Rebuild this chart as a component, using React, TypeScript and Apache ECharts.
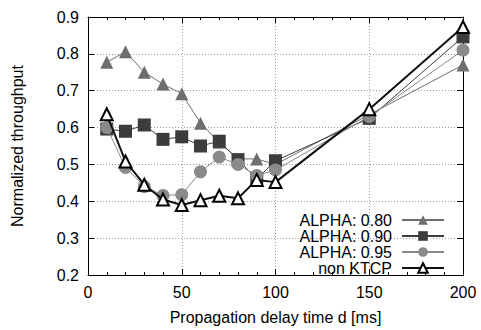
import React, { useEffect, useRef } from "react";
import * as echarts from "echarts";

const xValues = [10, 20, 30, 40, 50, 60, 70, 80, 90, 100, 150, 200];
const alpha080 = [0.777, 0.806, 0.75, 0.718, 0.692, 0.612, 0.56, 0.515, 0.515, 0.5, 0.635, 0.77];
const alpha090 = [0.596, 0.59, 0.607, 0.568, 0.575, 0.55, 0.563, 0.513, 0.46, 0.51, 0.625, 0.846];
const alpha095 = [0.6, 0.492, 0.44, 0.416, 0.418, 0.48, 0.52, 0.5, 0.47, 0.485, 0.63, 0.81];
const nonKtcp = [0.636, 0.508, 0.445, 0.405, 0.39, 0.403, 0.415, 0.408, 0.458, 0.452, 0.65, 0.873];
const seriesNames = ["ALPHA: 0.80", "ALPHA: 0.90", "ALPHA: 0.95", "non KTCP"];

const FONT = "Liberation Sans, Arial, Helvetica, sans-serif";

export default function App() {
  const ref = useRef<HTMLDivElement>(null);
  useEffect(() => {
    if (!ref.current) return;
    const chart = echarts.init(ref.current, undefined, { renderer: "svg" });
    const pair = (ys: number[]) => xValues.map((x, i) => [x, ys[i]]);
    const axisCommon = {
      axisLine: { show: true, onZero: false, lineStyle: { color: "#000", width: 1 } },
    };
    chart.setOption({
      animation: false,
      backgroundColor: "#fff",
      textStyle: { fontFamily: FONT },
      grid: { left: 88, right: 18, top: 17, bottom: 50, containLabel: false },
      xAxis: [
        {
          type: "value",
          min: 0,
          max: 200,
          interval: 50,
          name: "Propagation delay time d [ms]",
          nameLocation: "middle",
          nameGap: 34,
          nameTextStyle: { fontSize: 16, color: "#000", fontFamily: FONT },
          ...axisCommon,
          axisTick: { inside: true, length: 6, lineStyle: { color: "#000" } },
          minorTick: { show: true, splitNumber: 5, length: 3, lineStyle: { color: "#000" } },
          axisLabel: { fontSize: 16, color: "#000", margin: 9, fontFamily: FONT },
          splitLine: { show: true, lineStyle: { color: "#999", type: [1, 2], width: 1 } },
        },
        {
          type: "value",
          position: "top",
          min: 0,
          max: 200,
          interval: 50,
          ...axisCommon,
          axisTick: { inside: true, length: 6, lineStyle: { color: "#000" } },
          minorTick: { show: true, splitNumber: 5, length: 3, lineStyle: { color: "#000" } },
          axisLabel: { show: false },
          splitLine: { show: false },
        },
      ],
      yAxis: [
        {
          type: "value",
          min: 0.2,
          max: 0.9,
          interval: 0.1,
          name: "Normalized throughput",
          nameLocation: "middle",
          nameGap: 63,
          nameTextStyle: { fontSize: 16, color: "#000", fontFamily: FONT },
          ...axisCommon,
          axisTick: { inside: true, length: 6, lineStyle: { color: "#000" } },
          axisLabel: {
            fontSize: 16,
            color: "#000",
            margin: 9,
            fontFamily: FONT,
            formatter: (v: number) => v.toFixed(1),
          },
          splitLine: { show: true, lineStyle: { color: "#999", type: [1, 2], width: 1 } },
        },
        {
          type: "value",
          position: "right",
          min: 0.2,
          max: 0.9,
          interval: 0.1,
          ...axisCommon,
          axisTick: { inside: true, length: 6, lineStyle: { color: "#000" } },
          axisLabel: { show: false },
          splitLine: { show: false },
        },
      ],
      legend: {
        orient: "vertical",
        right: 36,
        top: 212,
        align: "right",
        itemWidth: 42,
        itemHeight: 12,
        itemGap: 0,
        padding: 0,
        textStyle: {
          fontSize: 16,
          lineHeight: 16,
          color: "#000",
          fontFamily: FONT,
          padding: [0, 5, 0, 0],
        },
        data: seriesNames,
      },
      series: [
        {
          name: seriesNames[0],
          type: "line",
          data: pair(alpha080),
          symbol: "triangle",
          symbolSize: 13,
          itemStyle: { color: "#6e6e6e" },
          lineStyle: { color: "#6e6e6e", width: 1 },
          z: 2,
        },
        {
          name: seriesNames[1],
          type: "line",
          data: pair(alpha090),
          symbol: "rect",
          symbolSize: 13,
          itemStyle: { color: "#3c3c3c" },
          lineStyle: { color: "#3c3c3c", width: 1 },
          z: 3,
        },
        {
          name: seriesNames[2],
          type: "line",
          data: pair(alpha095),
          symbol: "circle",
          symbolSize: 13,
          itemStyle: { color: "#8a8a8a" },
          lineStyle: { color: "#8a8a8a", width: 1 },
          z: 4,
        },
        {
          name: seriesNames[3],
          type: "line",
          data: pair(nonKtcp),
          symbol: "triangle",
          symbolSize: 12,
          showAllSymbol: true,
          itemStyle: { color: "#fff", borderColor: "#000", borderWidth: 2 },
          lineStyle: { color: "#111", width: 2 },
          z: 5,
        },
      ],
    });
    return () => chart.dispose();
  }, []);
  return (
    <div
      ref={ref}
      style={{ position: "absolute", left: 0, top: 0, width: 481, height: 330 }}
    />
  );
}
